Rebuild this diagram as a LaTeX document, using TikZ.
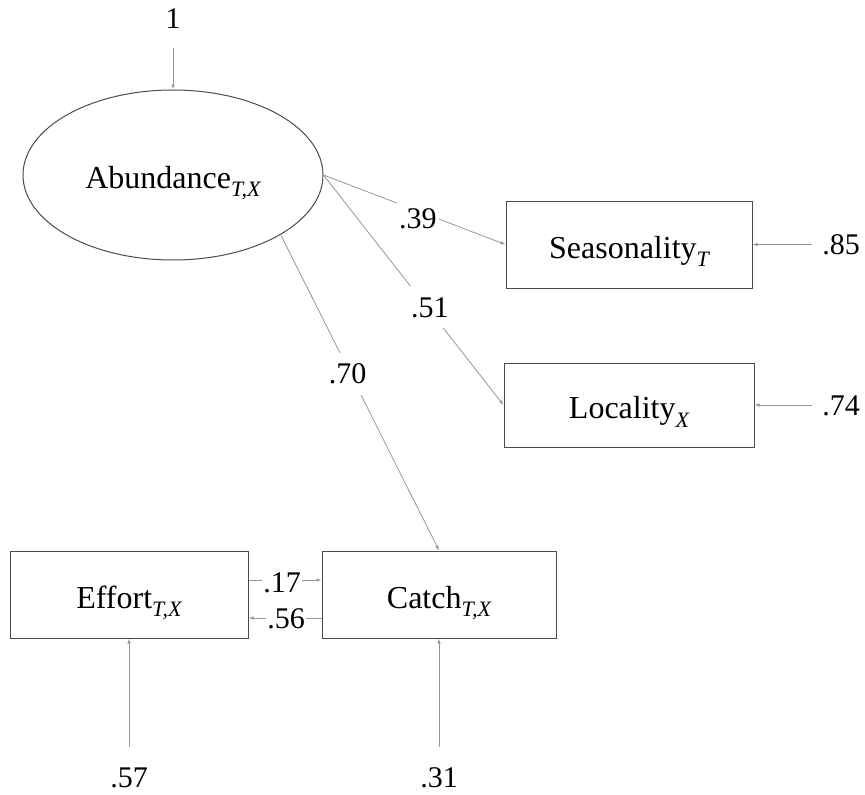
\documentclass[tikz,border=0pt]{standalone}
\usepackage{fontspec}
\setmainfont{Liberation Serif}
\usetikzlibrary{shapes.geometric,arrows.meta}
\definecolor{lc}{RGB}{150,150,150}
\definecolor{bc}{RGB}{75,75,75}
\newcommand\mysubs[1]{\raisebox{-8.5pt}{\fontsize{22}{22}\selectfont\itshape #1}}
\begin{document}
\begin{tikzpicture}[x=1pt,y=-1pt,
  every node/.style={font=\fontsize{30}{36}\selectfont},
  big/.style={font=\fontsize{32}{38}\selectfont},
  latent/.style={big,ellipse,draw=bc,line width=1pt,minimum width=300pt,minimum height=170pt,inner sep=0pt,text height=26pt,text depth=0pt},
  obs/.style={big,rectangle,draw=bc,line width=1pt,minimum height=87pt,inner sep=0pt,text height=27pt,text depth=0pt},
  lbl/.style={fill=white,inner xsep=2pt,inner ysep=11pt,text height=20pt,text depth=0pt},
  errv/.style={inner xsep=2pt,inner ysep=20pt,text height=20pt,text depth=0pt},
  errh/.style={inner xsep=10pt,inner ysep=2pt,text height=20pt,text depth=0pt},
  conn/.style={draw=lc,line width=0.8pt,-{Latex[length=5pt,width=3.5pt]}}
]
\useasboundingbox (0,0) rectangle (865,795);
% main nodes
\node[latent] (ab) at (173,175) {Abundance\mysubs{T,X}};
\node[obs,minimum width=246pt] (sea) at (629,244.5) {Seasonality\mysubs{T}};
\node[obs,minimum width=250pt,minimum height=84pt] (loc) at (629,405) {Locality\mysubs{X}};
\node[obs,minimum width=238pt] (eff) at (129,594.5) {Effort\mysubs{T,X}};
\node[obs,minimum width=234pt] (cat) at (439,594.5) {Catch\mysubs{T,X}};
% error / variance labels
\node[errv] (e1) at (173,18) {1};
\node[errh] (e85) at (841,244.5) {.85};
\node[errh] (e74) at (841,405) {.74};
\node[errv] (e57) at (129,777) {.57};
\node[errv] (e31) at (439,777) {.31};
% error arrows
\draw[conn] (e1) -- (ab);
\draw[conn] (e85) -- (sea);
\draw[conn] (e74) -- (loc);
\draw[conn] (e57) -- (eff);
\draw[conn] (e31) -- (cat);
% loadings
\draw[conn] (ab.east) -- node[lbl,pos=0.519,yshift=-7pt] {.39} (sea.west);
\draw[conn] (ab.east) -- node[lbl,pos=0.574,xshift=3pt] {.51} (loc.west);
\draw[conn] (ab.-29) -- node[lbl,pos=0.441,xshift=-3pt] {.70} (cat.north);
% reciprocal paths
\draw[conn] ([yshift=14.5pt]eff.east) -- node[lbl,inner xsep=1pt,pos=0.46,yshift=-2pt] {.17} ([yshift=14.5pt]cat.west);
\draw[conn] ([yshift=-23.5pt]cat.west) -- node[lbl,inner xsep=1pt,pos=0.486] {.56} ([yshift=-23.5pt]eff.east);
\end{tikzpicture}
\end{document}
